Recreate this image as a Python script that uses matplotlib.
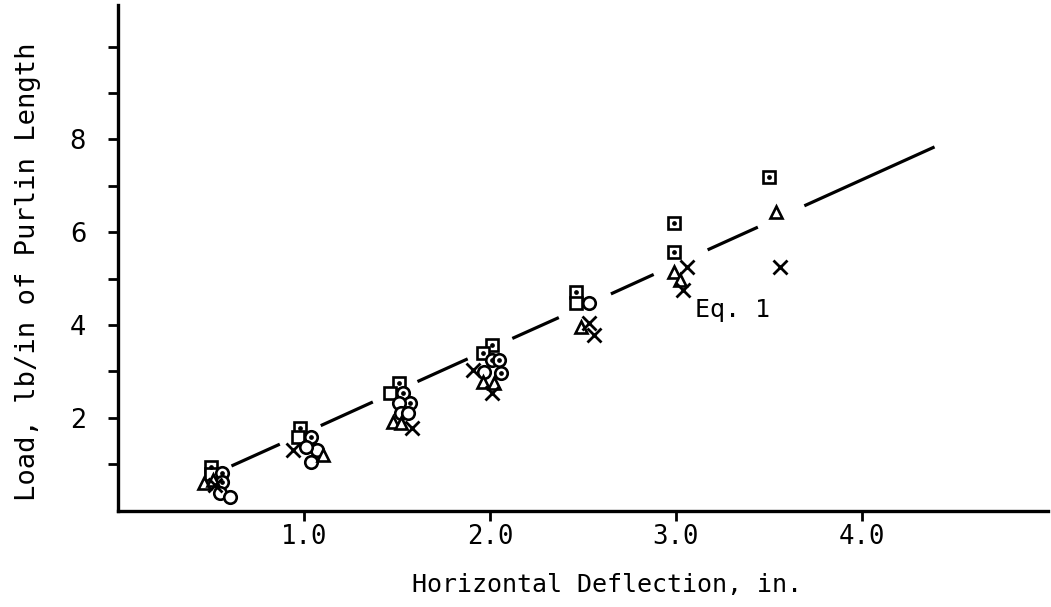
import matplotlib
matplotlib.use("Agg")
import matplotlib.pyplot as plt

# ---- data ----
sq_dot_x = [0.50, 0.98, 1.51, 2.01, 1.96, 2.46, 2.99, 2.99, 3.50]
sq_dot_y = [0.94, 1.78, 2.75, 3.57, 3.40, 4.72, 6.21, 5.58, 7.20]

sq_open_x = [0.50, 0.97, 1.46, 2.46]
sq_open_y = [0.79, 1.59, 2.54, 4.48]

circ_dot_x = [0.56, 0.56, 1.04, 1.53, 1.57, 2.01, 2.05, 2.06]
circ_dot_y = [0.81, 0.62, 1.59, 2.54, 2.32, 3.25, 3.25, 2.97]

circ_open_x = [0.55, 0.60, 1.04, 1.07, 1.51, 2.53, 1.01, 1.52, 1.56, 1.97]
circ_open_y = [0.38, 0.29, 1.05, 1.31, 2.32, 4.48, 1.37, 2.11, 2.11, 2.99]

tri_x = [0.46, 0.51, 1.10, 1.48, 1.52, 1.96, 2.02, 2.49, 2.99, 3.02, 3.54]
tri_y = [0.59, 0.66, 1.20, 1.91, 1.89, 2.78, 2.75, 3.96, 5.15, 4.98, 6.43]

cross_x = [0.52, 0.94, 1.58, 1.91, 2.01, 2.53, 2.56, 3.06, 3.04, 3.56]
cross_y = [0.55, 1.31, 1.78, 3.03, 2.54, 4.05, 3.79, 5.24, 4.76, 5.24]

# Eq. 1 line, drawn as broken segments (start, end)
eq1_seg_x = [(0.61, 0.87), (1.09, 1.37), (1.61, 1.88), (2.12, 2.37),
             (2.65, 2.88), (3.17, 3.44), (3.69, 4.39)]
eq1_seg_y = [(0.96, 1.43), (1.83, 2.34), (2.78, 3.27), (3.71, 4.16),
             (4.67, 5.09), (5.62, 6.11), (6.57, 7.84)]

x_ticks = [1.0, 2.0, 3.0, 4.0]
x_tick_labels = ["1.0", "2.0", "3.0", "4.0"]
y_ticks = [1, 2, 3, 4, 5, 6, 7, 8, 9, 10]
y_tick_labels = ["", "2", "", "4", "", "6", "", "8", "", ""]

# ---- figure ----
W, H = 1051, 607
fig = plt.figure(figsize=(W / 100, H / 100), dpi=100)
left_px, right_px, bottom_px, top_px = 118, 1048, 510.5, 5
ax = fig.add_axes([left_px / W, 1 - bottom_px / H,
                   (right_px - left_px) / W, (bottom_px - top_px) / H])

mono = "DejaVu Sans Mono"
ms = 9.0
mew = 1.9

for sx, sy in zip(eq1_seg_x, eq1_seg_y):
    ax.plot(sx, sy, color="black", lw=2.3, solid_capstyle="butt", zorder=2)

ax.plot(sq_dot_x, sq_dot_y, ls="none", marker="s", ms=ms, mfc="white",
        mec="black", mew=mew, zorder=3)
ax.plot(sq_dot_x, sq_dot_y, ls="none", marker="o", ms=2.4, color="black", zorder=4)

ax.plot(sq_open_x, sq_open_y, ls="none", marker="s", ms=ms, mfc="white",
        mec="black", mew=mew, zorder=3)

ax.plot(circ_dot_x, circ_dot_y, ls="none", marker="o", ms=ms, mfc="white",
        mec="black", mew=mew, zorder=3)
ax.plot(circ_dot_x, circ_dot_y, ls="none", marker="o", ms=2.4, color="black", zorder=4)

ax.plot(circ_open_x, circ_open_y, ls="none", marker="o", ms=ms, mfc="white",
        mec="black", mew=mew, zorder=3)

ax.plot(tri_x, tri_y, ls="none", marker="^", ms=ms, mfc="white",
        mec="black", mew=mew, zorder=3)

ax.plot(cross_x, cross_y, ls="none", marker="x", ms=ms + 1, color="black",
        mew=2.0, zorder=3)

ax.text(3.10, 4.33, "Eq. 1", fontsize=18, family=mono, ha="left", va="center")

ax.set_xlim(0, 5.0)
ax.set_ylim(0, 10.9)

ax.spines["top"].set_visible(False)
ax.spines["right"].set_visible(False)
ax.spines["left"].set_linewidth(2.4)
ax.spines["bottom"].set_linewidth(2.4)

ax.set_xticks(x_ticks)
ax.set_xticklabels(x_tick_labels, family=mono, fontsize=18.5)
ax.set_yticks(y_ticks)
ax.set_yticklabels(y_tick_labels, family="DejaVu Sans", fontsize=18.5)
ax.tick_params(axis="x", direction="out", length=7, width=2, pad=3)
ax.tick_params(axis="y", direction="out", length=7, width=2, pad=16)

ax.set_xlabel("Horizontal Deflection, in.", family=mono, fontsize=18)
ax.xaxis.set_label_coords((607 - left_px) / (right_px - left_px),
                          (bottom_px - 585) / (bottom_px - top_px))
ax.xaxis.label.set_va("center")
ax.set_ylabel("Load, lb/in of Purlin Length", family=mono, fontsize=19.5)
ax.yaxis.set_label_coords((28 - left_px) / (right_px - left_px),
                          (bottom_px - 272) / (bottom_px - top_px))
ax.yaxis.label.set_va("center")

fig.savefig("out.png", dpi=100)
